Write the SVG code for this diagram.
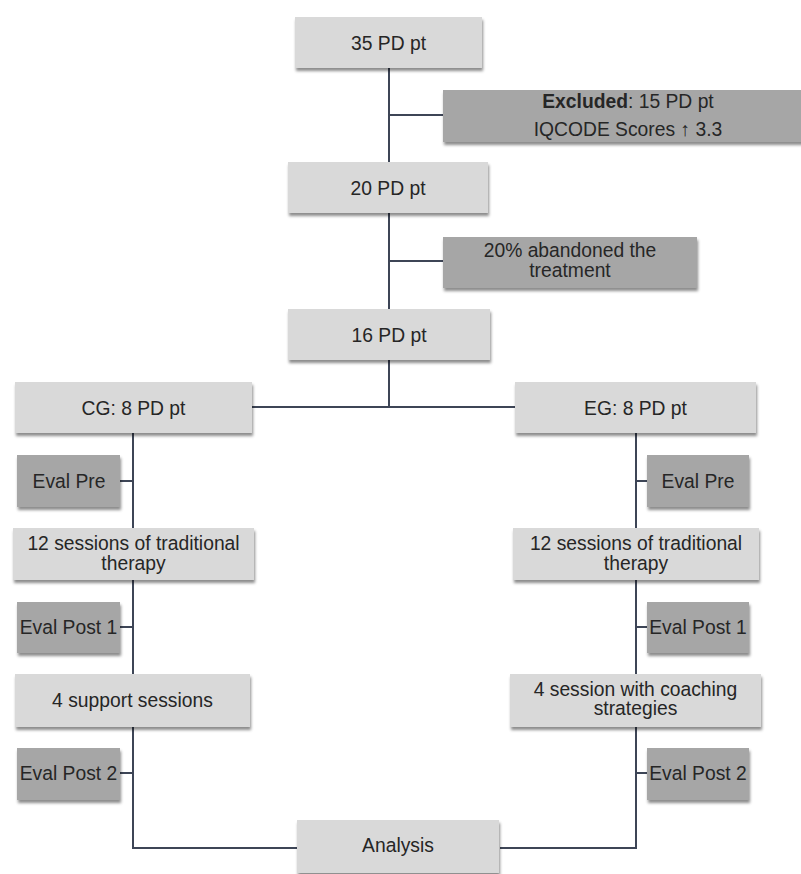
<svg xmlns="http://www.w3.org/2000/svg" width="801" height="874" viewBox="0 0 801 874">
  <defs>
    <filter id="sh" x="-10%" y="-20%" width="125%" height="160%">
      <feDropShadow dx="1" dy="3" stdDeviation="1.8" flood-color="#000" flood-opacity="0.45"/>
    </filter>
  </defs>
  <style>
    .lt { fill: #d9d9d9; filter: url(#sh); }
    .dk { fill: #a6a6a6; filter: url(#sh); }
    text { font-family: "Liberation Sans", Arial, sans-serif; font-size: 19.3px; fill: #262626; text-anchor: middle; }
    .b { font-weight: bold; }
    .c { fill: none; stroke: #3d4556; stroke-width: 2; }
  </style>
  <rect width="801" height="874" fill="#ffffff"/>

  <g id="connectors">
    <path class="c" d="M389 68 V162 M389 115 H443"/>
    <path class="c" d="M389 213 V309 M389 261 H443"/>
    <path class="c" d="M389 360 V407 M252 407 H515"/>
    <path class="c" d="M133 433 V848 H297 M120 481 H133 M120 627 H133 M120 773 H133"/>
    <path class="c" d="M636 433 V848 H500 M636 481 H647 M636 627 H647 M636 773 H647"/>
  </g>

  <g id="n35">
    <rect class="lt" x="295" y="17" width="187" height="51"/>
    <text x="388.5" y="49.5">35 PD pt</text>
  </g>
  <g id="excluded">
    <rect class="dk" x="443" y="90" width="372" height="52"/>
    <text x="628" y="108"><tspan class="b">Excluded</tspan>: 15 PD pt</text>
    <text x="628" y="136">IQCODE Scores ↑ 3.3</text>
  </g>
  <g id="n20">
    <rect class="lt" x="288" y="162" width="200" height="51"/>
    <text x="388" y="194.5">20 PD pt</text>
  </g>
  <g id="abandoned">
    <rect class="dk" x="443" y="237" width="254" height="51"/>
    <text x="570" y="257">20% abandoned the</text>
    <text x="570" y="277">treatment</text>
  </g>
  <g id="n16">
    <rect class="lt" x="288" y="309" width="202" height="51"/>
    <text x="389" y="341.5">16 PD pt</text>
  </g>
  <g id="cg">
    <rect class="lt" x="15" y="382" width="237" height="51"/>
    <text x="133.5" y="414.5">CG: 8 PD pt</text>
  </g>
  <g id="eg">
    <rect class="lt" x="515" y="382" width="241" height="51"/>
    <text x="635.5" y="414.5">EG: 8 PD pt</text>
  </g>

  <g id="cg-evalpre">
    <rect class="dk" x="17" y="455" width="103" height="52"/>
    <text x="69" y="488">Eval Pre</text>
  </g>
  <g id="cg-sessions12">
    <rect class="lt" x="13" y="528" width="241" height="52"/>
    <text x="133.5" y="550">12 sessions of traditional</text>
    <text x="133.5" y="569.5">therapy</text>
  </g>
  <g id="cg-evalpost1">
    <rect class="dk" x="17" y="602" width="103" height="51"/>
    <text x="68.5" y="634">Eval Post 1</text>
  </g>
  <g id="cg-support">
    <rect class="lt" x="15" y="674" width="235" height="53"/>
    <text x="132.5" y="707">4 support sessions</text>
  </g>
  <g id="cg-evalpost2">
    <rect class="dk" x="17" y="748" width="103" height="52"/>
    <text x="68.5" y="780">Eval Post 2</text>
  </g>

  <g id="eg-evalpre">
    <rect class="dk" x="647" y="455" width="102" height="52"/>
    <text x="698" y="488">Eval Pre</text>
  </g>
  <g id="eg-sessions12">
    <rect class="lt" x="513" y="528" width="246" height="52"/>
    <text x="636" y="550">12 sessions of traditional</text>
    <text x="636" y="569.5">therapy</text>
  </g>
  <g id="eg-evalpost1">
    <rect class="dk" x="647" y="602" width="102" height="51"/>
    <text x="698" y="634">Eval Post 1</text>
  </g>
  <g id="eg-coaching">
    <rect class="lt" x="510" y="674" width="251" height="53"/>
    <text x="635.5" y="696">4 session with coaching</text>
    <text x="635.5" y="715">strategies</text>
  </g>
  <g id="eg-evalpost2">
    <rect class="dk" x="647" y="748" width="102" height="52"/>
    <text x="698" y="780">Eval Post 2</text>
  </g>

  <g id="analysis">
    <rect class="lt" x="297" y="820" width="202" height="53"/>
    <text x="398" y="852">Analysis</text>
  </g>
</svg>
